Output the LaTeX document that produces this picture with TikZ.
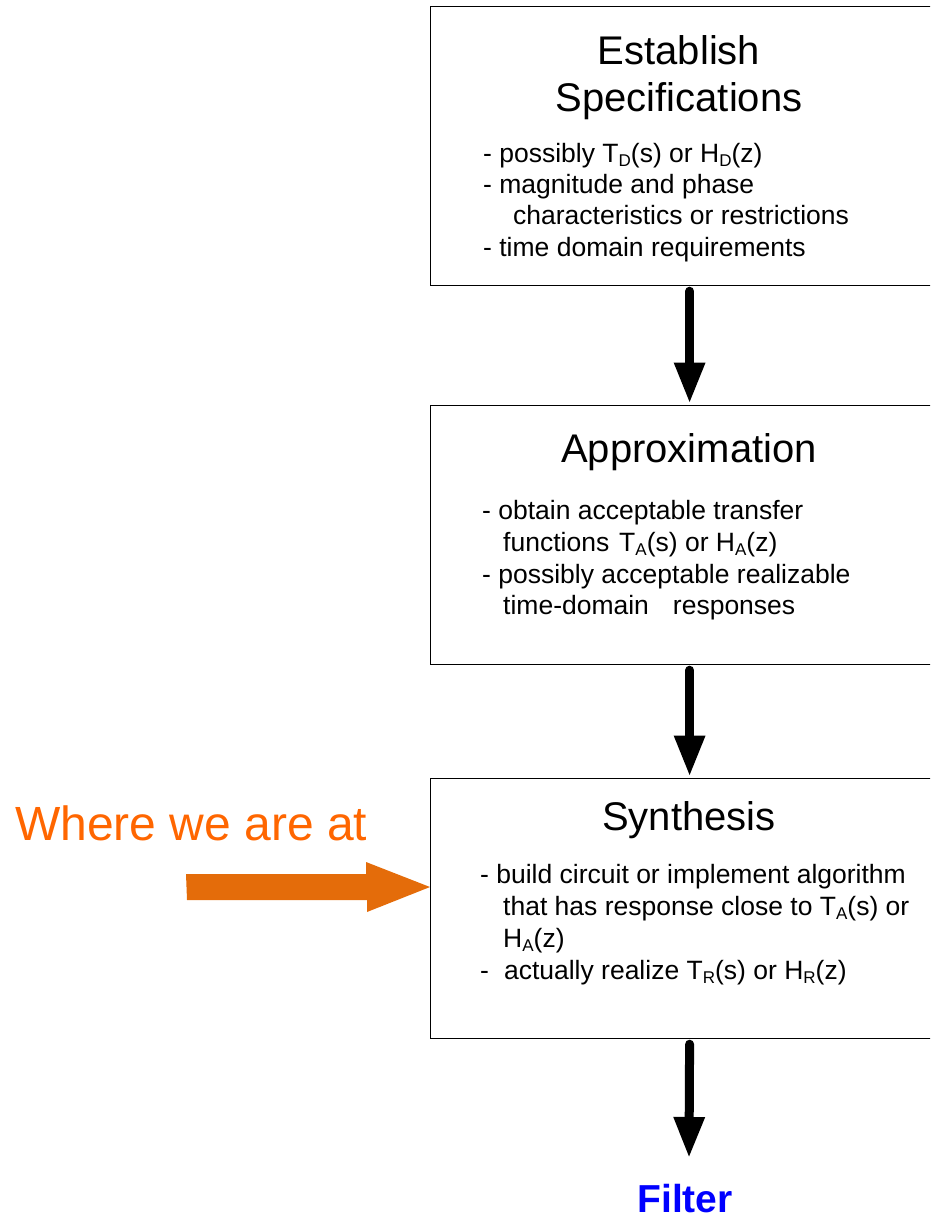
\documentclass[tikz,border=0pt]{standalone}
\usepackage{fontspec}
\setmainfont{Liberation Sans}
\usetikzlibrary{arrows.meta}
\definecolor{wtext}{RGB}{255,102,0}
\definecolor{warrow}{RGB}{228,108,10}
\definecolor{filterblue}{RGB}{0,0,255}
\newcommand{\lowsub}[1]{\raisebox{-0.16em}{\fontsize{17}{17}\selectfont #1}}
\tikzset{
  box/.style={draw, line width=1.2pt, minimum width=518pt, anchor=north west, inner sep=0pt},
  title/.style={font=\fontsize{40}{40}\selectfont, anchor=base, inner sep=0pt},
  body/.style={font=\fontsize{26.5}{26.5}\selectfont, anchor=base west, inner sep=0pt},
  flow/.style={line width=9pt, line cap=round, -{Triangle[width=29pt,length=41pt]}, shorten >=1.5pt},
}
\begin{document}
\begin{tikzpicture}[x=1pt,y=-1pt]
\useasboundingbox (0,0) rectangle (930,1216);
\clip (0,0) rectangle (930,1216);
% boxes
\node[box, minimum height=279pt] (b1) at (430,6) {};
\node[box, minimum height=259pt] (b2) at (430,405) {};
\node[box, minimum height=260pt] (b3) at (430,778) {};
% box 1 text
\node[title] (t1a) at (679,64) {Establish};
\node[title] (t1b) at (679,111) {Specifications};
\node[body] (l11) at (483,162) {- possibly T\lowsub{D}(s) or H\lowsub{D}(z)};
\node[body] (l12) at (483,193) {- magnitude and phase};
\node[body] (l13) at (513,224) {characteristics or restrictions};
\node[body] (l14) at (483,256) {- time domain requirements};
% box 2 text
\node[title] (t2) at (689,462) {Approximation};
\node[body] (l21) at (482,519) {- obtain acceptable transfer};
\node[body] (l22) at (503,551) {functions\hspace{10pt}T\lowsub{A}(s) or H\lowsub{A}(z)};
\node[body] (l23) at (482,583) {- possibly acceptable realizable};
\node[body] (l24) at (503,614) {time-domain\hspace{24pt}responses};
% box 3 text
\node[title] (t3) at (689,830) {Synthesis};
\node[body] (l31) at (480,883) {- build circuit or implement algorithm};
\node[body] (l32) at (503,915) {that has response close to T\lowsub{A}(s) or};
\node[body] (l33) at (503,947) {H\lowsub{A}(z)};
\node[body] (l34) at (480,979) {-\hspace{15pt}actually realize T\lowsub{R}(s) or H\lowsub{R}(z)};
% filter
\node[font=\fontsize{39}{39}\selectfont\bfseries, text=filterblue, anchor=base, inner sep=0pt] (filt) at (685,1212) {Filter};
\coordinate (fin) at (689,1158);
% flow arrows
\draw[flow] ([yshift=-5pt]b1.south) -- (b2.north);
\draw[flow] ([yshift=-5pt]b2.south) -- (b3.north);
\draw[flow, shorten >=0pt] ([yshift=-5pt]b3.south) -- (fin);
% where we are at
\node[font=\fontsize{48}{48}\selectfont, text=wtext, anchor=base west, inner sep=0pt] (where) at (15,840) {Where we are at};
\coordinate (os) at (186,887);
\coordinate (ot) at (b3.west |- os);
\fill[warrow] (os) ++(0,-13) -- ++(180,0) -- ++(0,-12) -- (ot) -- ++(-63,25) -- ++(0,-12) -- ++(-180,0) -- cycle;
\end{tikzpicture}
\end{document}
